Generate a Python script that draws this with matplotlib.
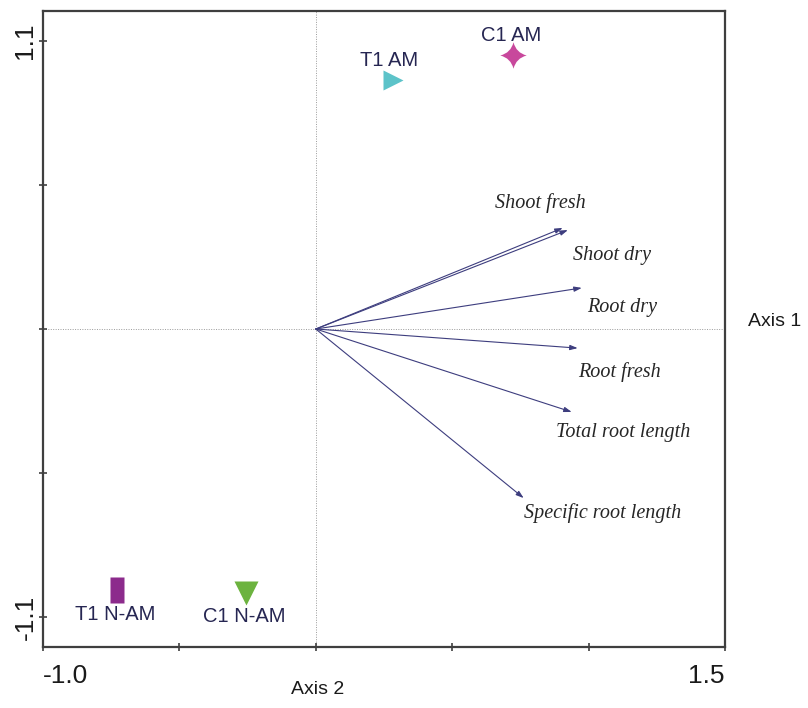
import matplotlib
matplotlib.use("Agg")
import matplotlib.pyplot as plt
from matplotlib.path import Path

# ── data ────────────────────────────────────────────────────────────────────
site_names = ["T1 AM", "C1 AM", "T1 N-AM", "C1 N-AM"]
site_x = [0.282, 0.722, -0.729, -0.257]
site_y = [0.951, 1.047, -0.997, -1.008]

var_names = ["Shoot fresh", "Shoot dry", "Root dry", "Root fresh",
             "Total root length", "Specific root length"]
var_x = [0.905, 0.924, 0.975, 0.960, 0.938, 0.762]
var_y = [0.386, 0.378, 0.157, -0.073, -0.317, -0.646]

x_ticks = [-1.0, -0.5, 0.0, 0.5, 1.0, 1.5]
x_ticklabels = ["-1.0", "", "", "", "", "1.5"]
y_ticks = [-1.1, -0.55, 0.0, 0.55, 1.1]
y_ticklabels = ["-1.1", "", "", "", "1.1"]

# ── marker shapes ───────────────────────────────────────────────────────────
rect = Path([(-0.5, -1), (0.5, -1), (0.5, 1), (-0.5, 1), (-0.5, -1)],
            [Path.MOVETO, Path.LINETO, Path.LINETO, Path.LINETO, Path.CLOSEPOLY])

# 4-point star with concave (curved) sides
c = 0.2
star4 = Path([(0, 1), (c, c), (1, 0), (c, -c), (0, -1), (-c, -c), (-1, 0),
              (-c, c), (0, 1), (0, 1)],
             [Path.MOVETO, Path.CURVE3, Path.CURVE3, Path.CURVE3, Path.CURVE3,
              Path.CURVE3, Path.CURVE3, Path.CURVE3, Path.CURVE3, Path.CLOSEPOLY])

site_style = [
    dict(marker=">", color="#5cc3c9", ms=15),
    dict(marker=star4, color="#c8489c", ms=19),
    dict(marker=rect, color="#8c2b8c", ms=19),
    dict(marker="v", color="#6cb33f", ms=17),
]
site_label_off = [(-3, 14), (-1, 14), (-1, -18), (-1, -17)]
var_label_off = [(-16, 18), (32, -18), (29, -14), (30, -17), (37, -15), (57, -11)]

C_ARROW = "#3d3d7e"
C_SITE_TXT = "#262652"
C_SPINE = "#3f3f3f"

fig = plt.figure(figsize=(8.08, 7.08), dpi=100)
fig.patch.set_facecolor("white")
ax = fig.add_axes([43 / 808, 61 / 708, 682 / 808, 636 / 708])
ax.set_xlim(-1.0, 1.5)
ax.set_ylim(-1.215, 1.215)

# dotted reference lines
ax.axvline(0, color="#9a9a9a", lw=0.7, ls=(0, (1, 1.5)), zorder=1)
ax.axhline(0, color="#9a9a9a", lw=0.7, ls=(0, (1, 1.5)), zorder=1)

# variable arrows
for name, vx, vy, off in zip(var_names, var_x, var_y, var_label_off):
    ax.annotate("", xy=(vx, vy), xytext=(0, 0),
                arrowprops=dict(arrowstyle="-|>,head_length=0.45,head_width=0.15",
                                color=C_ARROW, lw=0.8, shrinkA=0, shrinkB=0),
                zorder=2)
    ax.annotate(name, xy=(vx, vy), xytext=off, textcoords="offset points",
                ha="center", va="center", fontsize=14.5, style="italic",
                family="Liberation Serif", color="#262626", zorder=3)

# sample points
for name, sx, sy, st, off in zip(site_names, site_x, site_y, site_style, site_label_off):
    ax.plot(sx, sy, ls="none", marker=st["marker"], color=st["color"],
            ms=st["ms"], mec="none", zorder=4)
    ax.annotate(name, xy=(sx, sy), xytext=off, textcoords="offset points",
                ha="center", va="center", fontsize=14.5, family="Liberation Sans",
                color=C_SITE_TXT, zorder=5)

# axes styling
for sp in ax.spines.values():
    sp.set_color(C_SPINE)
    sp.set_linewidth(1.6)
ax.set_xticks(x_ticks)
ax.set_xticklabels(x_ticklabels, fontsize=19, family="Liberation Sans")
ax.set_yticks(y_ticks)
ax.set_yticklabels(y_ticklabels, fontsize=19, family="Liberation Sans",
                   rotation=90, va="center")
ax.tick_params(direction="inout", length=6, width=1.2, color=C_SPINE,
               labelcolor="#1a1a1a")
ax.tick_params(axis="x", pad=9)
ax.tick_params(axis="y", pad=1)
xl = ax.get_xticklabels()
xl[0].set_ha("left")
xl[-1].set_ha("right")

fig.text(748 / 808, 1 - 322 / 708, "Axis 1", fontsize=14, family="Liberation Sans",
         ha="left", va="center", color="#1a1a1a")
fig.text(318 / 808, 1 - 690 / 708, "Axis 2", fontsize=14, family="Liberation Sans",
         ha="center", va="center", color="#1a1a1a")

fig.savefig("out.png", dpi=100)
